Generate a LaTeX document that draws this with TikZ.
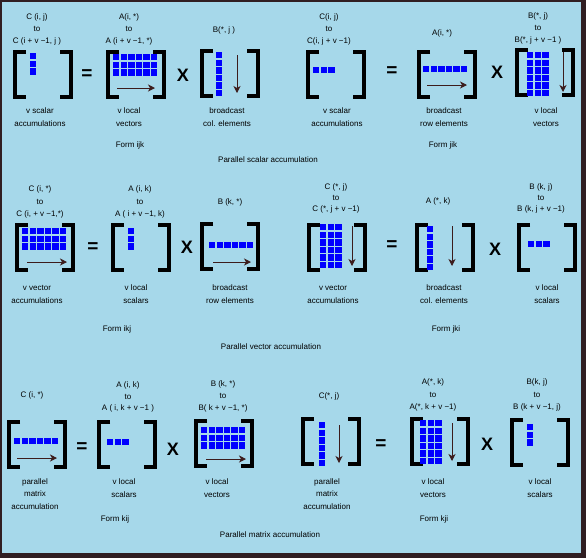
\documentclass[tikz,border=0pt]{standalone}
\usepackage{fontspec}
\setmainfont{Liberation Sans}
\usetikzlibrary{arrows.meta}
\definecolor{bgblue}{RGB}{166,216,234}
\definecolor{frame}{RGB}{48,30,34}
\definecolor{sqblue}{RGB}{0,0,255}
\definecolor{arr}{RGB}{60,28,28}
\tikzset{
  txt/.style={align=center,inner sep=0pt,font=\fontsize{8}{12}\selectfont},
  op/.style={inner sep=0pt,font=\fontsize{19}{19}\selectfont\bfseries},
  timesop/.style={inner sep=0pt,font=\fontsize{18}{18}\selectfont\bfseries},
  brkline/.style={line width=3.6pt,miter limit=10},
  arrline/.style={draw=arr,line width=1pt,-{Stealth[length=7pt,width=7pt,inset=2pt]}},
  brk/.pic={
    \draw[brkline] (13,1.8) -- (1.8,1.8) -- (1.8,47.2) -- (13,47.2);
    \draw[brkline] (47,1.8) -- (58.2,1.8) -- (58.2,47.2) -- (47,47.2);
  }
}
\newcommand{\sqgrid}[4]{%
  \foreach \ci in {1,...,#3}{\foreach \ri in {1,...,#4}{%
    \fill[sqblue] ({#1+(\ci-1)*7.6},{#2+(\ri-1)*7.6}) rectangle ++(6.4,6.4);}}}
\begin{document}
\begin{tikzpicture}[x=1pt,y=-1pt]
\useasboundingbox (0,0) rectangle (586,558);
\fill[frame] (0,0) rectangle (586,558);
\fill[bgblue] (2,2) rectangle (581,553);

% ---------------- Form ijk
\node[txt] (ijkCt) at (37,29) {C (i, j)\\to\\C (i + v −1, j )};
\node[txt] (ijkAt) at (129,29) {A(i, *)\\to\\A (i + v −1, *)};
\node[txt] (ijkBt) at (224,30) {B(*, j )};
\pic at (13,50) {brk};
\pic at (106,50) {brk};
\pic at (200,49) {brk};
\sqgrid{30}{53}{1}{3}
\sqgrid{113}{54}{6}{3}
\sqgrid{216}{52}{1}{6}
\draw[arrline] (117,88) -- (155,88);
\draw[arrline] (237,55) -- (237,93);
\node[op] (ijkEq) at (87,75) {=};
\node[timesop] (ijkX) at (183,75) {X};
\node[txt,font=\fontsize{8}{13}\selectfont] (ijkCl) at (40,117) {v scalar\\accumulations};
\node[txt,font=\fontsize{8}{13}\selectfont] (ijkAl) at (129,117) {v local\\vectors};
\node[txt,font=\fontsize{8}{13}\selectfont] (ijkBl) at (227,117) {broadcast\\col. elements};
\node[txt] (ijkF) at (130,145) {Form ijk};

\node[txt] (pscal) at (268,160) {Parallel scalar accumulation};

% ---------------- Form jik
\node[txt] (jikCt) at (329,29) {C(i, j)\\to\\C(i, j + v −1)};
\node[txt] (jikAt) at (442,33) {A(i, *)};
\node[txt] (jikBt) at (538,28) {B(*, j)\\to\\B(*, j + v −1 )};
\pic at (306,50) {brk};
\pic at (417,50) {brk};
\pic at (515,48) {brk};
\sqgrid{313}{67}{3}{1}
\sqgrid{423}{66}{6}{1}
\sqgrid{527}{52}{3}{6}
\draw[arrline] (427,85) -- (467,85);
\draw[arrline] (563,52) -- (563,92);
\node[op] (jikEq) at (392,72) {=};
\node[timesop] (jikX) at (497,72) {X};
\node[txt,font=\fontsize{8}{13}\selectfont] (jikCl) at (337,117) {v scalar\\accumulations};
\node[txt,font=\fontsize{8}{13}\selectfont] (jikAl) at (444,117) {broadcast\\row elements};
\node[txt,font=\fontsize{8}{13}\selectfont] (jikBl) at (546,117) {v local\\vectors};
\node[txt] (jikF) at (443,145) {Form jik};

% ---------------- Form ikj
\node[txt,font=\fontsize{8}{12.5}\selectfont] (ikjCt) at (40,202) {C (i, *)\\to\\C (i, + v −1,*)};
\node[txt,font=\fontsize{8}{12.5}\selectfont] (ikjAt) at (140,202) {A (i, k)\\to\\A ( i + v −1, k)};
\node[txt] (ikjBt) at (230,202) {B (k, *)};
\pic at (15,223) {brk};
\pic at (111,223) {brk};
\pic at (200,222) {brk};
\sqgrid{22}{228}{6}{3}
\sqgrid{128}{228}{1}{3}
\sqgrid{209}{242}{6}{1}
\draw[arrline] (27,262) -- (67,262);
\draw[arrline] (213,262) -- (251,262);
\node[op] (ikjEq) at (93,248) {=};
\node[timesop] (ikjX) at (187,247) {X};
\node[txt,font=\fontsize{8}{13}\selectfont] (ikjCl) at (37,294) {v vector\\accumulations};
\node[txt,font=\fontsize{8}{13}\selectfont] (ikjAl) at (136,294) {v local\\scalars};
\node[txt,font=\fontsize{8}{13}\selectfont] (ikjBl) at (230,294) {broadcast\\row elements};
\node[txt] (ikjF) at (117,329) {Form ikj};

\node[txt] (pvec) at (271,347) {Parallel vector accumulation};

% ---------------- Form jki
\node[txt,font=\fontsize{8}{11}\selectfont] (jkiCt) at (336,198) {C (*, j)\\to\\C (*, j + v −1)};
\node[txt] (jkiAt) at (438,201) {A (*, k)};
\node[txt,font=\fontsize{8}{11}\selectfont] (jkiBt) at (541,198) {B (k, j)\\to\\B (k, j + v −1)};
\pic at (307,223) {brk};
\pic at (415,223) {brk};
\pic at (517,223) {brk};
\sqgrid{320}{224}{3}{6}
\sqgrid{427}{226}{1}{6}
\sqgrid{528}{241}{3}{1}
\draw[arrline] (352,226) -- (352,266);
\draw[arrline] (452,226) -- (452,266);
\node[op] (jkiEq) at (392,246) {=};
\node[timesop] (jkiX) at (495,249) {X};
\node[txt,font=\fontsize{8}{13}\selectfont] (jkiCl) at (333,294) {v vector\\accumulations};
\node[txt,font=\fontsize{8}{13}\selectfont] (jkiAl) at (444,294) {broadcast\\col. elements};
\node[txt,font=\fontsize{8}{13}\selectfont] (jkiBl) at (547,294) {v local\\scalars};
\node[txt] (jkiF) at (446,329) {Form jki};

% ---------------- Form kij
\node[txt] (kijCt) at (32,395) {C (i, *)};
\node[txt,font=\fontsize{8}{11.5}\selectfont] (kijAt) at (128,397) {A (i, k)\\to\\A ( i, k + v −1 )};
\node[txt,font=\fontsize{8}{12}\selectfont] (kijBt) at (223,396) {B (k, *)\\to\\B( k + v −1, *)};
\pic at (7,420) {brk};
\pic at (97,420) {brk};
\pic at (194,419) {brk};
\sqgrid{14}{438}{6}{1}
\sqgrid{107}{439}{3}{1}
\sqgrid{201}{427}{6}{3}
\draw[arrline] (17,458) -- (57,458);
\draw[arrline] (206,459) -- (246,459);
\node[op] (kijEq) at (82,448) {=};
\node[timesop] (kijX) at (173,449) {X};
\node[txt,font=\fontsize{8}{12.5}\selectfont] (kijCl) at (35,494) {parallel\\matrix\\accumulation};
\node[txt,font=\fontsize{8}{12.5}\selectfont] (kijAl) at (124,488) {v local\\scalars};
\node[txt,font=\fontsize{8}{12.5}\selectfont] (kijBl) at (217,488) {v local\\vectors};
\node[txt] (kijF) at (115,519) {Form kij};

\node[txt] (pmat) at (270,535) {Parallel matrix accumulation};

% ---------------- Form kji
\node[txt] (kjiCt) at (329,396) {C(*, j)};
\node[txt,font=\fontsize{8}{12.5}\selectfont] (kjiAt) at (433,395) {A(*, k)\\to\\A(*, k + v −1)};
\node[txt,font=\fontsize{8}{12.5}\selectfont] (kjiBt) at (537,395) {B(k, j)\\to\\B (k + v −1, j)};
\pic at (301,417) {brk};
\pic at (410,417) {brk};
\pic at (510,418) {brk};
\sqgrid{319}{422}{1}{6}
\sqgrid{420}{420}{3}{6}
\sqgrid{527}{424}{1}{3}
\draw[arrline] (339,425) -- (339,463);
\draw[arrline] (452,423) -- (452,461);
\node[op] (kjiEq) at (381,445) {=};
\node[timesop] (kjiX) at (487,444) {X};
\node[txt,font=\fontsize{8}{12.5}\selectfont] (kjiCl) at (327,494) {parallel\\matrix\\accumulation};
\node[txt,font=\fontsize{8}{12.5}\selectfont] (kjiAl) at (433,488) {v local\\vectors};
\node[txt,font=\fontsize{8}{12.5}\selectfont] (kjiBl) at (540,488) {v local\\scalars};
\node[txt] (kjiF) at (434,519) {Form kji};
\end{tikzpicture}
\end{document}
